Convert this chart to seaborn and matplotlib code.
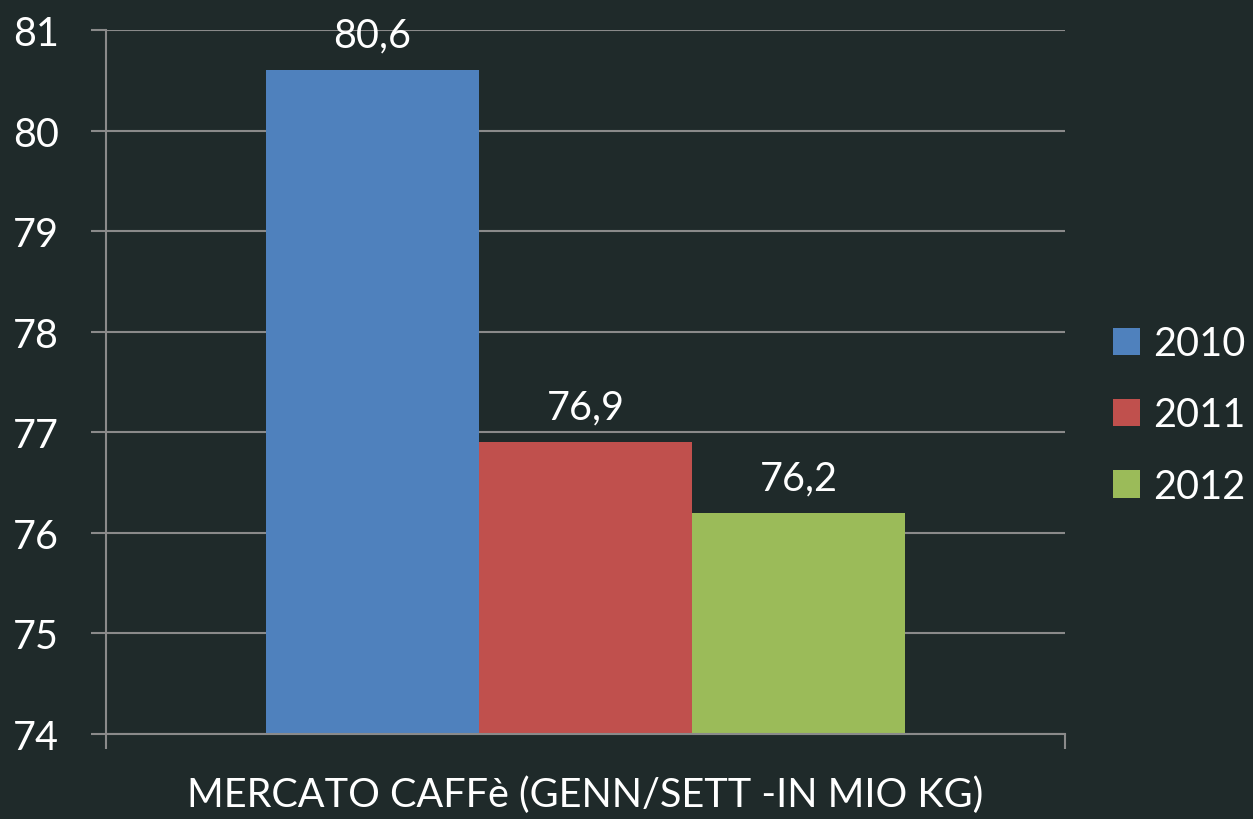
import seaborn as sns
import pandas as pd
import matplotlib.pyplot as plt
from matplotlib.ticker import FixedLocator

# data
category = "MERCATO CAFFè (GENN/SETT -IN MIO KG)"
years = ["2010", "2011", "2012"]
values = [80.6, 76.9, 76.2]
colors = ["#4F81BD", "#C0504D", "#9BBB59"]

df = pd.DataFrame({"cat": [category] * len(years), "anno": years, "valore": values})

bg = "#1f2a2a"
grid_col = "#8a8a8a"
fs = 28.5

sns.set_theme(style="white")
plt.rcParams["font.family"] = ["Lato", "DejaVu Sans"]

fig = plt.figure(figsize=(12.53, 8.2), dpi=100, facecolor=bg)
ax = fig.add_axes([106 / 1253, 1 - 735 / 820, (1065 - 106) / 1253, (735 - 31) / 820])
ax.set_facecolor(bg)

sns.barplot(data=df, x="cat", y="valore", hue="anno", palette=colors,
            width=2 / 3, saturation=1, linewidth=0, ax=ax)

ax.set_xlim(-0.5, 0.5)
ax.set_ylim(74, 81)
ax.set_yticks(range(74, 82))

# gridlines
ax.yaxis.grid(True, color=grid_col, linewidth=1.5)
ax.set_axisbelow(True)

for s in ["top", "right"]:
    ax.spines[s].set_visible(False)
for s in ["left", "bottom"]:
    ax.spines[s].set_color(grid_col)
    ax.spines[s].set_linewidth(1.5)

ax.tick_params(axis="y", labelcolor="white", color=grid_col, labelsize=fs,
               length=11, width=1.5, direction="out", pad=23, left=True)
ax.xaxis.set_minor_locator(FixedLocator([-0.5, 0.5]))
ax.tick_params(axis="x", which="minor", length=11, width=1.5, color=grid_col,
               direction="out", bottom=True)
ax.tick_params(axis="x", which="major", length=0, labelsize=fs, labelcolor="white", pad=30)
ax.set_xlabel("")
ax.set_ylabel("")

# value labels
for cont in ax.containers:
    ax.bar_label(cont, labels=[f"{v:.1f}".replace(".", ",") for v in cont.datavalues],
                 color="white", fontsize=fs, padding=12)

# legend
ax.legend(loc="center left", bbox_to_anchor=(1113 / 1253, 1 - 416 / 820),
          bbox_transform=fig.transFigure, frameon=False, fontsize=fs,
          labelcolor="white", handlelength=0.68, handleheight=0.68,
          handletextpad=0.33, labelspacing=0.87, borderaxespad=0, borderpad=0)

fig.savefig("out.png", dpi=100, facecolor=bg)
